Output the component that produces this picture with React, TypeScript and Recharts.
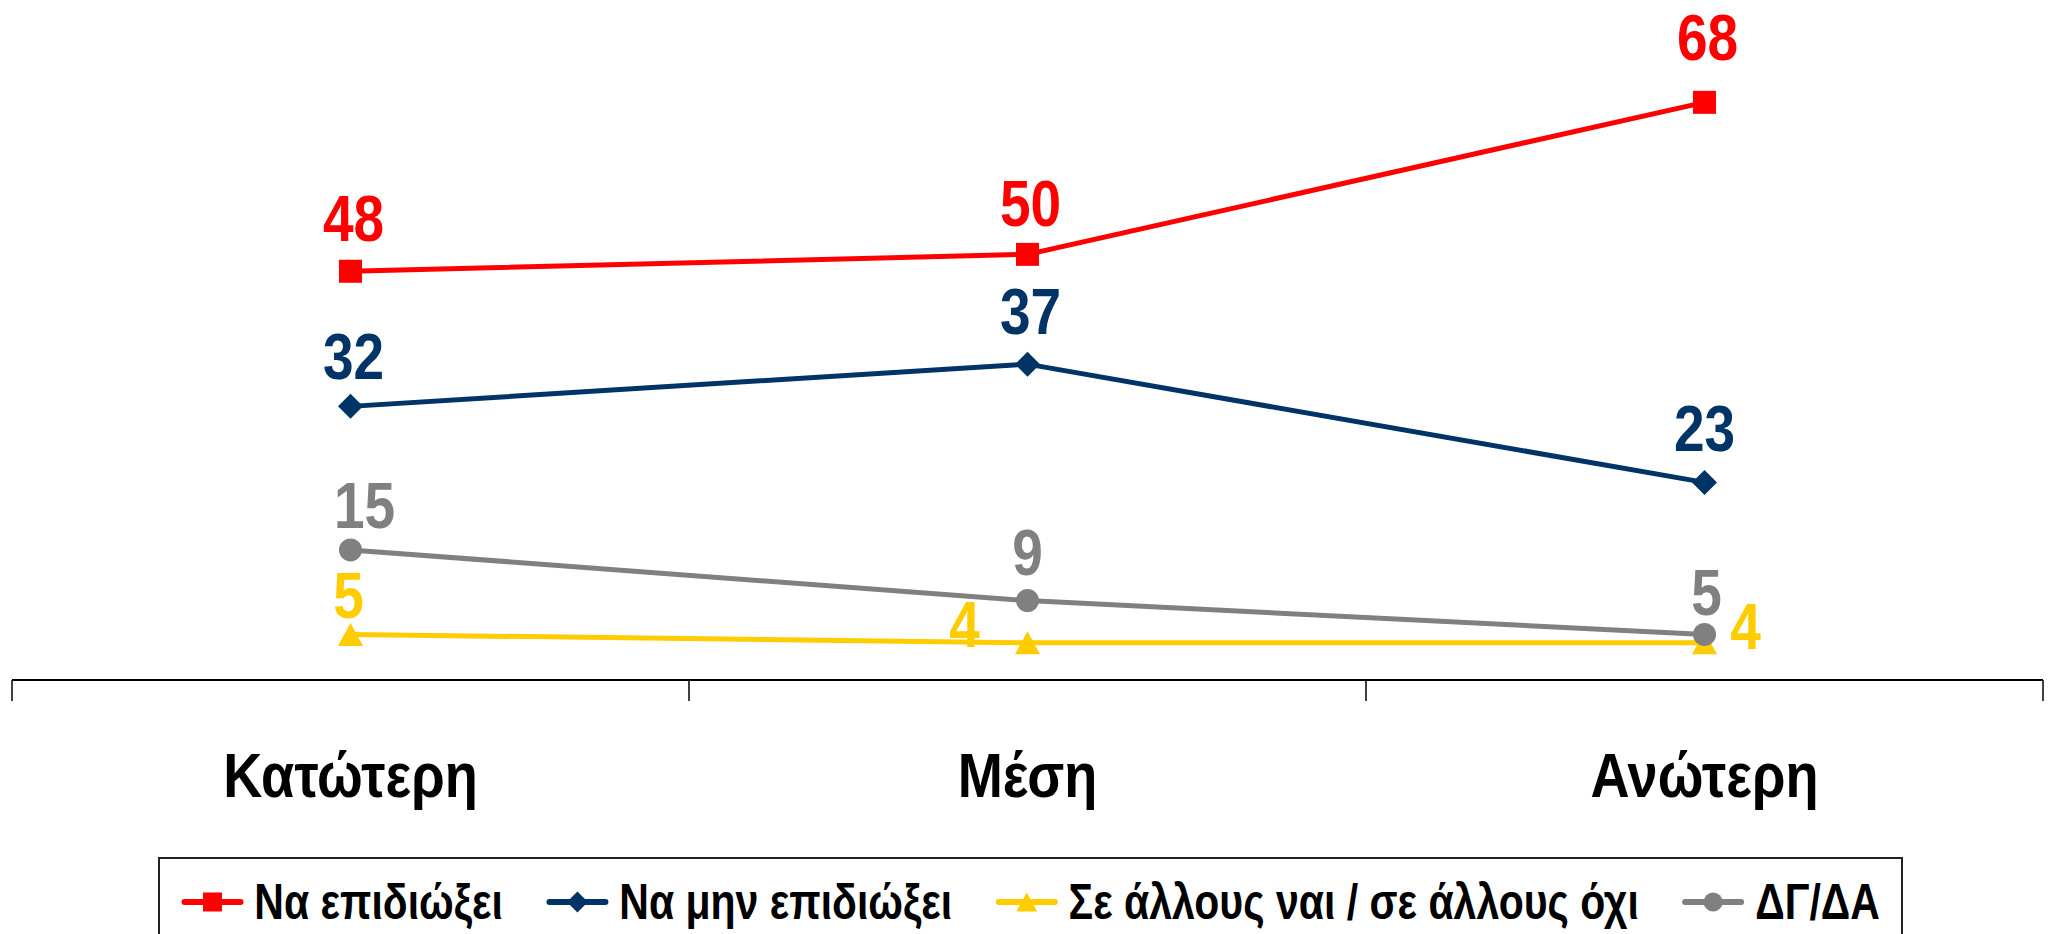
import React from 'react';
import { ComposedChart, Line, XAxis, YAxis, Legend, LabelList } from 'recharts';

const categories = ['Κατώτερη', 'Μέση', 'Ανώτερη'];
const pursue = [48, 50, 68];
const notPursue = [32, 37, 23];
const mixed = [5, 4, 4];
const dontKnow = [15, 9, 5];

const seriesNames = ['Να επιδιώξει', 'Να μην επιδιώξει', 'Σε άλλους ναι / σε άλλους όχι', 'ΔΓ/ΔΑ'];

const WIDTH = 2051;
const HEIGHT = 934;
const MARGIN = { top: 1, right: 8, bottom: 124, left: 12 };
const PLOT_W = WIDTH - MARGIN.left - MARGIN.right;
const FONT = "'Liberation Sans', Arial, sans-serif";
// the original uses a narrow face; squeeze the regular one instead
const NARROW = 0.86;
const LEGEND_NARROW = 0.82;

const data = categories.map((c, i) => ({
  category: c,
  pursue: pursue[i],
  notPursue: notPursue[i],
  mixed: mixed[i],
  dontKnow: dontKnow[i],
}));

type Shape = 'square' | 'diamond' | 'triangle' | 'circle';

// label placement per point: dx, dy of the text baseline from the point
const series = [
  { key: 'pursue', name: seriesNames[0], color: '#FF0000', shape: 'square' as Shape, labelOffsets: [[3, -30], [3, -28], [3, -42]] },
  { key: 'notPursue', name: seriesNames[1], color: '#003366', shape: 'diamond' as Shape, labelOffsets: [[3, -27], [3, -30], [0, -31]] },
  { key: 'mixed', name: seriesNames[2], color: '#FFCC00', shape: 'triangle' as Shape, labelOffsets: [[-2, -16], [-63, 4], [41, 6]] },
  { key: 'dontKnow', name: seriesNames[3], color: '#808080', shape: 'circle' as Shape, labelOffsets: [[14, -22], [0, -26], [2, -19]] },
];

const Marker = ({ cx, cy, shape, color, size = 23 }: { cx: number; cy: number; shape: Shape; color: string; size?: number }) => {
  const h = size / 2;
  if (shape === 'square') return <rect x={cx - h} y={cy - h} width={size} height={size} fill={color} />;
  if (shape === 'diamond')
    return <polygon points={`${cx},${cy - h - 1} ${cx + h + 1},${cy} ${cx},${cy + h + 1} ${cx - h - 1},${cy}`} fill={color} />;
  if (shape === 'triangle')
    return <polygon points={`${cx},${cy - h} ${cx + h + 1},${cy + h} ${cx - h - 1},${cy + h}`} fill={color} />;
  return <circle cx={cx} cy={cy} r={h} fill={color} />;
};

const CategoryTick = (props: any) => {
  const { x, y, payload, index } = props;
  const half = PLOT_W / categories.length / 2;
  return (
    <g>
      <line x1={x - half} y1={y} x2={x - half} y2={y + 21} stroke="#000" strokeWidth={1.5} />
      {index === categories.length - 1 && (
        <line x1={x + half} y1={y} x2={x + half} y2={y + 21} stroke="#000" strokeWidth={1.5} />
      )}
      <text
        transform={`translate(${x},${y + 117}) scale(${NARROW},1)`}
        textAnchor="middle"
        fontFamily={FONT}
        fontWeight="bold"
        fontSize={63}
        fill="#000"
      >
        {payload.value}
      </text>
    </g>
  );
};

const LegendIcon = ({ shape, color }: { shape: Shape; color: string }) => (
  <svg width={64 / LEGEND_NARROW} height={26} viewBox="0 0 64 26" preserveAspectRatio="none" style={{ display: 'block' }}>
    <line x1={4} y1={13} x2={60} y2={13} stroke={color} strokeWidth={6} strokeLinecap="round" />
    <Marker cx={32} cy={13} shape={shape} color={color} size={19} />
  </svg>
);

const renderLegend = () => (
  <div
    style={{
      boxSizing: 'border-box',
      width: 1745,
      height: 110,
      border: '2px solid #222',
      borderBottom: 'none',
      paddingTop: 18,
      display: 'flex',
      alignItems: 'flex-start',
      justifyContent: 'center',
    }}
  >
    <div
      style={{
        display: 'flex',
        alignItems: 'center',
        gap: 52,
        transform: `scaleX(${LEGEND_NARROW})`,
        transformOrigin: 'center',
        fontFamily: FONT,
        fontWeight: 'bold',
        fontSize: 50,
        color: '#000',
        whiteSpace: 'nowrap',
      }}
    >
      {series.map((s) => (
        <div key={s.key} style={{ display: 'flex', alignItems: 'center', gap: 12, lineHeight: '50px' }}>
          <LegendIcon shape={s.shape} color={s.color} />
          <span>{s.name}</span>
        </div>
      ))}
    </div>
  </div>
);

export default function App() {
  return (
    <div style={{ position: 'absolute', left: 0, top: 0, width: WIDTH, height: HEIGHT, background: '#fff', overflow: 'hidden' }}>
      <ComposedChart width={WIDTH} height={HEIGHT} data={data} margin={MARGIN}>
        <XAxis
          dataKey="category"
          scale="band"
          interval={0}
          height={130}
          tickSize={0}
          tickMargin={0}
          tick={<CategoryTick />}
          axisLine={{ stroke: '#000', strokeWidth: 2 }}
        />
        <YAxis hide domain={[-0.4, 80]} />
        <Legend
          layout="horizontal"
          verticalAlign="middle"
          align="center"
          content={renderLegend}
          wrapperStyle={{ top: 857, left: 158, width: 1745, height: 110 }}
        />
        {series.map((s) => (
          <Line
            key={s.key}
            dataKey={s.key}
            name={s.name}
            stroke={s.color}
            strokeWidth={5}
            isAnimationActive={false}
            dot={(p: any) => <Marker key={`${s.key}-${p.index}`} cx={p.cx} cy={p.cy} shape={s.shape} color={s.color} />}
            activeDot={false}
          >
            <LabelList
              dataKey={s.key}
              content={(p: any) => {
                const [dx, dy] = s.labelOffsets[p.index] || [0, -28];
                return (
                  <text
                    transform={`translate(${p.x + dx},${p.y + dy}) scale(${NARROW},1)`}
                    textAnchor="middle"
                    fontFamily={FONT}
                    fontWeight="bold"
                    fontSize={64}
                    fill={s.color}
                  >
                    {p.value}
                  </text>
                );
              }}
            />
          </Line>
        ))}
      </ComposedChart>
    </div>
  );
}
